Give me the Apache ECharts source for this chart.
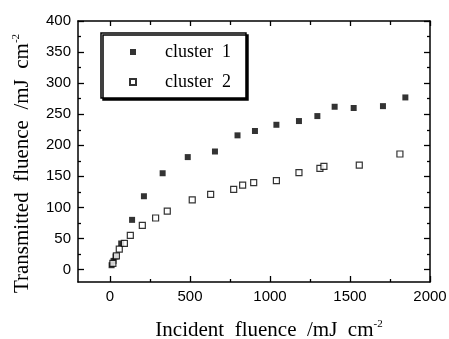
<!DOCTYPE html>
<html>
<head>
<meta charset="utf-8">
<script src="https://cdn.jsdelivr.net/npm/echarts@6/dist/echarts.min.js"></script>
<style>
html, body { margin: 0; padding: 0; background: #fff; }
#main { width: 449px; height: 339px; }
</style>
</head>
<body>
<div id="main"></div>
<script>
// values
var cluster1X = [10, 22, 35, 70, 138, 212, 329, 486, 656, 797, 906, 1040, 1181, 1296, 1404, 1523, 1706, 1846];
var cluster1Y = [7, 14, 21, 42, 80, 118, 155, 181, 190, 216, 223, 233, 239, 247, 262, 260, 263, 277];
var cluster2X = [18, 40, 58, 90, 127, 202, 285, 358, 514, 629, 773, 829, 898, 1040, 1181, 1312, 1337, 1558, 1812];
var cluster2Y = [10, 22, 33, 42, 55, 71, 83, 94, 112, 121, 129, 136, 140, 143, 156, 163, 166, 168, 186];

var xTicks = [0, 500, 1000, 1500, 2000];
var xMinorTicks = [250, 750, 1250, 1750];
var yTicks = [0, 50, 100, 150, 200, 250, 300, 350, 400];
var yMinorTicks = [25, 75, 125, 175, 225, 275, 325, 375];

var labelFont = { fontFamily: 'Liberation Sans', fontSize: 15, color: '#000' };
var titleFont = 'Liberation Serif';

function pairs(xs, ys) {
    return xs.map(function (x, i) { return [x, ys[i]]; });
}

function makeAxis(min, max, pos, ticks, len, withLabels, withLine) {
    return {
        type: 'value', position: pos, min: min, max: max,
        splitLine: { show: false },
        axisLine: { show: withLine, onZero: false, lineStyle: { color: '#000', width: 1.5 } },
        axisTick: { show: true, inside: true, length: len, customValues: ticks,
            lineStyle: { color: '#000', width: 1.3 } },
        axisLabel: withLabels
            ? Object.assign({ customValues: ticks, margin: 7, formatter: function (v) { return String(v); } }, labelFont)
            : { show: false }
    };
}

function titleStyle(pad) {
    return {
        padding: pad,
        rich: {
            m: { fontFamily: titleFont, fontSize: 21, color: '#000', lineHeight: 22 },
            s: { fontFamily: titleFont, fontSize: 11, color: '#000', verticalAlign: 'top', lineHeight: 22 }
        }
    };
}

var xAxes = [
    makeAxis(-200, 2000, 'bottom', xTicks, 6, true, true),
    makeAxis(-200, 2000, 'bottom', xMinorTicks, 3, false, false),
    makeAxis(-200, 2000, 'top', xTicks, 5, false, true),
    makeAxis(-200, 2000, 'top', xMinorTicks, 4, false, false)
];
xAxes[0].name = '{m|Incident  fluence  /mJ  cm}{s|-2}';
xAxes[0].nameLocation = 'middle';
xAxes[0].nameGap = 37;
xAxes[0].nameTextStyle = titleStyle([0, 0, 0, 30]);

var yAxes = [
    makeAxis(-20, 400, 'left', yTicks, 6, true, true),
    makeAxis(-20, 400, 'left', yMinorTicks, 3, false, false),
    makeAxis(-20, 400, 'right', yTicks, 6, false, true),
    makeAxis(-20, 400, 'right', yMinorTicks, 3, false, false)
];
yAxes[0].name = '{m|Transmitted  fluence  /mJ  cm}{s|-2}';
yAxes[0].nameLocation = 'middle';
yAxes[0].nameGap = 45;
yAxes[0].nameTextStyle = titleStyle([0, 24, 0, 0]);

var chart = echarts.init(document.getElementById('main'));
chart.setOption({
    animation: false,
    backgroundColor: '#fff',
    grid: { left: 78, right: 19, top: 21, bottom: 57, outerBoundsMode: 'none' },
    xAxis: xAxes,
    yAxis: yAxes,
    legend: {
        orient: 'vertical', left: 101, top: 33,
        backgroundColor: '#fff', borderColor: '#000', borderWidth: 1.5,
        shadowColor: '#000', shadowBlur: 0, shadowOffsetX: 2, shadowOffsetY: 2,
        padding: [10, 15, 7, 28],
        itemWidth: 6, itemHeight: 6, itemGap: 12,
        textStyle: { fontFamily: titleFont, fontSize: 18, color: '#000', padding: [0, 0, 0, 24] },
        formatter: function (n) { return n.replace(' ', '  '); },
        data: ['cluster 1', 'cluster 2']
    },
    series: [
        {
            name: 'cluster 1', type: 'scatter', symbol: 'rect', symbolSize: 6,
            itemStyle: { color: '#000' },
            data: pairs(cluster1X, cluster1Y)
        },
        {
            name: 'cluster 2', type: 'scatter', symbol: 'rect', symbolSize: 6,
            itemStyle: { color: '#fff', borderColor: '#000', borderWidth: 1.2 },
            data: pairs(cluster2X, cluster2Y)
        }
    ]
});
</script>
</body>
</html>
